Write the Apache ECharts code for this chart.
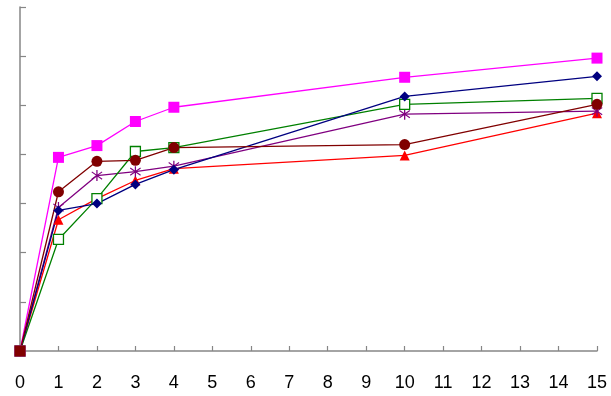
<!DOCTYPE html>
<html>
<head>
<meta charset="utf-8">
<script src="https://cdn.jsdelivr.net/npm/echarts@6/dist/echarts.min.js"></script>
<style>
  html, body { margin: 0; padding: 0; background: #fff; }
  #chart { width: 611px; height: 396px; }
</style>
</head>
<body>
<div id="chart"></div>
<script>
// x positions (time) and the six series
const xs = [0, 1, 2, 3, 4, 10, 15];
const magentaVals = [0, 3.94, 4.18, 4.67, 4.96, 5.57, 5.96];
const navyVals    = [0, 2.86, 3.00, 3.39, 3.69, 5.18, 5.59];
const greenVals   = [0, 2.27, 3.10, 4.06, 4.14, 5.02, 5.14];
const purpleVals  = [0, 2.92, 3.57, 3.65, 3.76, 4.82, 4.88];
const redVals     = [0, 2.67, 3.10, 3.47, 3.71, 3.98, 4.84];
const maroonVals  = [0, 3.24, 3.86, 3.88, 4.14, 4.20, 5.02];

// asterisk marker (vertical bar + two diagonals)
const asterisk = 'path://M9,0 L11,0 L11,20 L9,20 Z M1.3,4.2 L2.3,2.5 L18.7,15.8 L17.7,17.5 Z M17.7,2.5 L18.7,4.2 L2.3,17.5 L1.3,15.8 Z';

const pairs = vals => xs.map((x, i) => [x, vals[i]]);

const mk = (vals, color, symbol, size, hollow) => ({
  type: 'line',
  data: pairs(vals),
  symbol: symbol,
  symbolSize: size,
  showAllSymbol: true,
  lineStyle: { color: color, width: 1.3 },
  itemStyle: hollow
    ? { color: '#fff', borderColor: color, borderWidth: 1.3 }
    : { color: color, borderWidth: 0 },
  emphasis: { disabled: true },
  animation: false
});

const chart = echarts.init(document.getElementById('chart'));
const maroon = mk(maroonVals, '#800000', 'circle', 11);
maroon.data[0] = { value: [0, 0], symbol: 'rect', symbolSize: 11 };

chart.setOption({
  animation: false,
  grid: { left: 20, right: 14, top: 7, bottom: 45 },
  xAxis: {
    type: 'value', min: 0, max: 15, interval: 1,
    axisLine: { lineStyle: { color: '#868686', width: 1.5 } },
    axisTick: { inside: true, length: 5, lineStyle: { color: '#868686', width: 1.2 } },
    axisLabel: { color: '#000', fontSize: 18, fontFamily: 'Liberation Sans, Arial', margin: 23 },
    splitLine: { show: false }
  },
  yAxis: {
    type: 'value', min: 0, max: 7, interval: 1,
    axisLine: { show: true, lineStyle: { color: '#868686', width: 1.5 } },
    axisTick: { show: true, inside: true, length: 6, lineStyle: { color: '#868686', width: 1.2 } },
    axisLabel: { show: false },
    splitLine: { show: false }
  },
  series: [
    mk(redVals, '#FF0000', 'triangle', 10),
    mk(purpleVals, '#800080', asterisk, 11),
    mk(greenVals, '#008000', 'rect', 10, true),
    mk(navyVals, '#000080', 'diamond', 10),
    mk(magentaVals, '#FF00FF', 'rect', 11),
    maroon
  ]
});
</script>
</body>
</html>
